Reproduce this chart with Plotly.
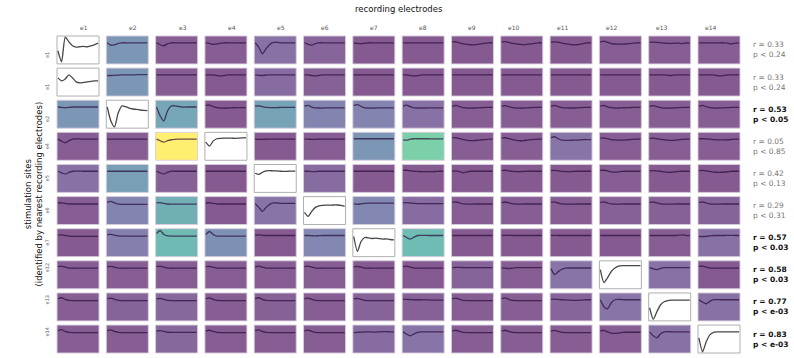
import plotly.graph_objects as go
from plotly.subplots import make_subplots
from plotly.colors import sample_colorscale

# recording electrodes (columns) and stimulation sites (rows)
electrodes = ["e1", "e2", "e3", "e4", "e5", "e6", "e7", "e8", "e9", "e10", "e11", "e12", "e13", "e14"]
site_labels = ["e1", "e1", "e2", "e4", "e5", "e6", "e7", "e12", "e13", "e14"]

# correlation statistics per stimulation site
r_values = [0.33, 0.33, 0.53, 0.05, 0.42, 0.29, 0.57, 0.58, 0.77, 0.83]
p_labels = ["0.24", "0.24", "0.05", "0.85", "0.13", "0.31", "0.03", "0.03", "e-03", "e-03"]
significant = [False, False, True, False, False, False, True, True, True, True]

# response strength per cell (None = electrode at the stimulation site)
shade_s1 = [None, 0.30, 0.02, 0.02, 0.10, 0.05, 0.00, 0.00, 0.00, 0.00, 0.00, 0.02, 0.02, 0.02]
shade_s2 = [None, 0.30, 0.02, 0.00, 0.08, 0.03, 0.00, 0.00, 0.00, 0.00, 0.00, 0.00, 0.00, 0.00]
shade_s3 = [0.30, None, 0.40, 0.00, 0.38, 0.20, 0.20, 0.10, 0.02, 0.02, 0.02, 0.02, 0.02, 0.02]
shade_s4 = [0.02, 0.02, 1.00, None, 0.00, 0.02, 0.30, 0.66, 0.02, 0.02, 0.12, 0.02, 0.02, 0.02]
shade_s5 = [0.10, 0.35, 0.03, 0.00, None, 0.08, 0.00, 0.00, 0.00, 0.00, 0.00, 0.02, 0.00, 0.00]
shade_s6 = [0.02, 0.20, 0.45, 0.00, 0.12, None, 0.22, 0.08, 0.02, 0.02, 0.02, 0.03, 0.03, 0.04]
shade_s7 = [0.00, 0.17, 0.52, 0.27, 0.00, 0.22, None, 0.53, 0.00, 0.00, 0.00, 0.00, 0.02, 0.10]
shade_s8 = [0.02, 0.02, 0.02, 0.02, 0.02, 0.02, 0.00, 0.00, 0.04, 0.02, 0.12, None, 0.10, 0.00]
shade_s9 = [0.02, 0.04, 0.06, 0.02, 0.03, 0.02, 0.04, 0.03, 0.02, 0.02, 0.05, 0.12, None, 0.10]
shade_s10 = [0.02, 0.02, 0.06, 0.02, 0.02, 0.02, 0.08, 0.12, 0.02, 0.02, 0.02, 0.02, 0.10, None]

# averaged evoked responses (normalised amplitude), one list of 12 samples per cell
resp_s1 = [
    [-0.40, -0.95, 0.28, 0.05, -0.15, -0.22, -0.20, -0.18, -0.20, -0.15, -0.10, -0.02],
    [0.00, -0.12, -0.10, -0.03, 0.00, 0.00, 0.00, 0.00, 0.00, 0.00, 0.00, 0.00],
    [0.00, -0.10, -0.15, -0.05, 0.00, 0.00, 0.00, 0.00, 0.00, 0.00, 0.00, 0.00],
    [0.00, -0.03, -0.08, -0.06, -0.02, 0.00, 0.00, 0.00, 0.00, 0.00, 0.00, 0.00],
    [0.00, -0.22, -0.55, -0.30, -0.08, 0.02, 0.02, 0.00, 0.00, 0.00, 0.00, 0.00],
    [0.00, -0.08, -0.12, -0.04, 0.00, 0.00, 0.00, 0.00, 0.00, 0.00, 0.00, 0.00],
    [0.00, -0.03, -0.05, -0.02, 0.00, 0.00, 0.00, 0.00, 0.00, 0.00, 0.00, 0.00],
    [0.00, 0.00, 0.00, 0.00, 0.00, 0.00, 0.00, 0.00, 0.00, 0.00, 0.00, 0.00],
    [0.05, 0.05, 0.00, -0.05, -0.08, -0.10, -0.10, -0.08, -0.05, -0.02, 0.00, 0.00],
    [0.04, 0.06, 0.02, -0.03, -0.06, -0.08, -0.09, -0.08, -0.06, -0.03, 0.00, 0.00],
    [0.03, 0.05, 0.03, -0.02, -0.05, -0.08, -0.10, -0.10, -0.07, -0.03, 0.00, 0.00],
    [0.03, 0.08, 0.02, -0.04, -0.06, -0.07, -0.07, -0.06, -0.04, -0.02, 0.00, 0.00],
    [0.02, 0.03, 0.02, 0.00, -0.02, -0.03, -0.03, -0.02, -0.02, -0.04, -0.01, 0.00],
    [0.00, 0.00, 0.00, 0.00, 0.00, 0.00, 0.00, 0.00, -0.03, -0.06, -0.02, 0.00],
]
resp_s2 = [
    [-0.15, -0.30, -0.20, 0.00, -0.15, -0.35, -0.40, -0.38, -0.35, -0.32, -0.30, -0.30],
    [-0.03, -0.03, -0.02, -0.01, 0.00, 0.00, 0.00, 0.00, 0.01, 0.01, 0.01, 0.01],
    [0.00, 0.00, 0.00, 0.00, 0.00, 0.00, 0.00, 0.00, 0.00, 0.00, 0.00, 0.00],
    [0.00, 0.00, 0.00, -0.03, -0.06, -0.03, 0.00, 0.00, 0.00, 0.00, 0.00, 0.00],
    [0.00, -0.02, -0.03, -0.01, 0.00, 0.00, 0.00, 0.00, 0.00, 0.00, 0.00, 0.00],
    [0.00, 0.00, -0.03, -0.05, -0.02, 0.00, 0.00, 0.00, 0.00, 0.00, 0.00, 0.00],
    [0.00, 0.00, 0.00, 0.00, 0.00, 0.00, 0.00, 0.00, 0.00, 0.00, 0.00, 0.00],
    [0.00, 0.00, -0.03, -0.06, -0.04, 0.00, 0.00, 0.00, 0.00, 0.00, 0.00, 0.00],
    [0.00, 0.00, 0.00, 0.00, 0.00, 0.00, 0.00, 0.00, 0.00, 0.00, 0.00, 0.00],
    [0.00, 0.00, 0.00, 0.00, 0.00, 0.00, 0.00, 0.00, 0.00, 0.00, 0.00, 0.00],
    [0.00, 0.00, 0.00, 0.00, 0.00, 0.00, 0.00, 0.00, 0.00, 0.00, 0.00, 0.00],
    [0.00, 0.00, 0.00, 0.00, 0.00, 0.00, 0.00, 0.00, 0.00, 0.00, 0.00, 0.00],
    [0.00, 0.00, 0.00, 0.00, 0.00, -0.02, -0.03, 0.00, 0.00, 0.00, 0.00, 0.00],
    [0.00, 0.00, 0.00, 0.00, 0.00, -0.03, -0.05, -0.02, 0.00, 0.00, 0.00, 0.00],
]
resp_s3 = [
    [0.00, -0.02, -0.03, -0.02, 0.00, 0.00, 0.00, 0.00, 0.00, 0.00, 0.00, 0.00],
    [0.00, -0.70, -1.00, -0.30, 0.05, 0.02, -0.05, -0.10, -0.12, -0.15, -0.17, -0.18],
    [0.00, -0.45, -0.70, -0.20, 0.05, 0.06, 0.03, 0.00, 0.00, 0.00, 0.00, 0.00],
    [0.08, 0.10, 0.02, -0.03, -0.05, -0.05, -0.05, -0.04, -0.03, -0.03, -0.03, -0.03],
    [0.05, 0.06, 0.02, -0.02, -0.03, -0.03, -0.03, -0.02, -0.02, -0.02, -0.02, -0.02],
    [0.05, 0.08, 0.00, -0.04, -0.05, -0.05, -0.04, -0.04, -0.04, -0.04, -0.04, -0.04],
    [0.08, 0.12, 0.03, -0.04, -0.05, -0.05, -0.05, -0.04, -0.04, -0.04, -0.04, -0.04],
    [0.05, 0.10, 0.02, -0.04, -0.05, -0.05, -0.05, -0.04, -0.04, -0.04, -0.04, -0.04],
    [0.03, 0.08, 0.02, -0.03, -0.05, -0.05, -0.05, -0.04, -0.03, -0.02, -0.02, -0.02],
    [0.03, 0.07, 0.02, -0.03, -0.05, -0.05, -0.05, -0.04, -0.03, -0.02, -0.02, -0.02],
    [0.03, 0.08, 0.02, -0.03, -0.04, -0.05, -0.05, -0.04, -0.03, -0.02, -0.02, -0.02],
    [0.04, 0.08, 0.01, -0.03, -0.05, -0.05, -0.04, -0.03, -0.03, -0.02, -0.02, -0.02],
    [0.03, 0.07, 0.02, -0.03, -0.05, -0.05, -0.05, -0.04, -0.03, -0.02, -0.02, -0.02],
    [0.03, 0.08, 0.02, -0.03, -0.05, -0.05, -0.04, -0.04, -0.03, -0.02, -0.02, -0.02],
]
resp_s4 = [
    [0.00, -0.10, -0.18, -0.08, 0.00, 0.01, 0.01, 0.00, 0.00, 0.00, 0.00, 0.00],
    [0.00, 0.00, 0.00, 0.00, 0.00, 0.00, 0.00, 0.00, 0.00, 0.00, 0.00, 0.00],
    [0.00, -0.08, -0.15, -0.08, -0.03, -0.01, 0.00, 0.00, 0.00, 0.00, 0.00, 0.00],
    [-0.15, -0.35, -0.10, 0.02, 0.04, 0.05, 0.05, 0.05, 0.04, 0.05, 0.06, 0.08],
    [0.00, -0.01, -0.01, 0.00, 0.00, 0.00, 0.00, 0.00, 0.00, 0.00, 0.00, 0.00],
    [0.00, 0.00, -0.01, -0.01, 0.00, 0.00, 0.00, 0.00, 0.00, 0.00, 0.00, 0.00],
    [0.02, 0.02, 0.02, 0.02, 0.02, 0.02, 0.02, 0.02, 0.02, 0.02, 0.02, 0.02],
    [-0.04, -0.05, 0.00, 0.02, 0.02, 0.02, 0.02, 0.02, 0.01, 0.01, 0.01, 0.01],
    [0.06, 0.08, 0.02, -0.03, -0.06, -0.07, -0.07, -0.05, -0.03, -0.02, 0.00, 0.00],
    [0.05, 0.07, 0.02, -0.03, -0.06, -0.08, -0.07, -0.05, -0.03, -0.01, 0.00, 0.00],
    [0.08, 0.12, 0.02, -0.05, -0.06, -0.06, -0.05, -0.05, -0.04, -0.02, -0.02, -0.02],
    [0.05, 0.06, 0.02, -0.02, -0.04, -0.05, -0.05, -0.04, -0.02, -0.01, 0.00, 0.00],
    [0.04, 0.05, 0.02, -0.01, -0.03, -0.05, -0.06, -0.05, -0.03, -0.01, 0.00, 0.00],
    [0.02, 0.02, 0.01, 0.00, -0.02, -0.03, -0.04, -0.04, -0.03, -0.01, 0.00, 0.00],
]
resp_s5 = [
    [0.00, -0.08, -0.14, -0.06, 0.00, 0.01, 0.01, 0.00, 0.00, 0.00, 0.00, 0.00],
    [0.00, 0.00, 0.00, 0.00, 0.00, 0.00, 0.00, 0.00, 0.00, 0.00, 0.00, 0.00],
    [0.00, -0.08, -0.14, -0.06, 0.00, 0.00, 0.00, 0.00, 0.00, 0.00, 0.00, 0.00],
    [0.00, 0.00, 0.00, 0.00, 0.00, 0.00, 0.00, 0.00, 0.00, 0.00, 0.00, 0.00],
    [-0.10, -0.16, -0.05, 0.02, 0.03, 0.02, 0.02, 0.00, -0.01, 0.00, 0.01, 0.01],
    [0.00, 0.00, -0.02, -0.02, 0.00, 0.00, 0.00, 0.00, 0.00, 0.00, 0.00, 0.00],
    [0.00, 0.00, 0.00, 0.00, 0.00, 0.00, 0.00, 0.00, 0.00, 0.00, 0.00, 0.00],
    [0.04, 0.05, 0.02, 0.00, -0.01, -0.02, -0.02, -0.02, -0.02, -0.01, 0.00, 0.00],
    [0.00, 0.02, -0.02, -0.08, -0.03, 0.00, 0.00, 0.00, 0.00, 0.00, 0.00, 0.00],
    [0.03, 0.05, 0.02, -0.01, -0.02, -0.02, -0.01, 0.00, 0.00, 0.00, 0.00, 0.00],
    [0.03, 0.04, 0.02, -0.01, -0.02, -0.02, -0.01, 0.00, 0.00, 0.00, 0.00, 0.00],
    [0.05, 0.05, 0.02, -0.03, -0.04, -0.03, -0.01, 0.00, 0.00, 0.00, 0.00, 0.00],
    [0.02, 0.03, 0.02, 0.00, -0.03, -0.05, -0.05, -0.03, -0.01, 0.00, 0.00, 0.00],
    [0.03, 0.04, 0.02, -0.01, -0.04, -0.05, -0.05, -0.04, -0.02, 0.00, 0.00, 0.00],
]
resp_s6 = [
    [0.02, 0.03, 0.00, -0.03, -0.03, -0.03, -0.03, -0.03, -0.03, -0.03, -0.03, -0.03],
    [0.05, 0.10, 0.02, -0.04, -0.05, -0.05, -0.05, -0.05, -0.05, -0.05, -0.05, -0.05],
    [0.03, 0.04, 0.00, -0.03, -0.04, -0.04, -0.04, -0.04, -0.04, -0.04, -0.04, -0.04],
    [0.02, 0.03, 0.00, -0.02, -0.03, -0.03, -0.03, -0.03, -0.03, -0.03, -0.03, -0.03],
    [0.00, -0.20, -0.40, -0.20, -0.05, 0.02, 0.02, 0.00, 0.00, 0.00, 0.00, 0.00],
    [-0.45, -0.65, -0.40, -0.20, -0.12, -0.10, -0.09, -0.09, -0.08, -0.08, -0.10, -0.15],
    [-0.03, -0.05, -0.02, 0.00, 0.01, 0.01, 0.01, 0.01, 0.01, 0.01, 0.01, 0.01],
    [0.03, 0.04, 0.02, 0.00, -0.01, -0.01, -0.01, -0.01, -0.01, -0.01, -0.01, -0.01],
    [0.05, 0.08, 0.02, -0.03, -0.04, -0.04, -0.03, -0.03, -0.03, -0.03, -0.03, -0.03],
    [0.04, 0.07, 0.02, -0.03, -0.04, -0.04, -0.03, -0.03, -0.03, -0.03, -0.03, -0.03],
    [0.05, 0.08, 0.01, -0.03, -0.04, -0.04, -0.04, -0.03, -0.03, -0.03, -0.03, -0.03],
    [0.04, 0.08, 0.02, -0.03, -0.04, -0.04, -0.03, -0.03, -0.03, -0.03, -0.03, -0.03],
    [0.05, 0.07, 0.02, -0.02, -0.04, -0.04, -0.04, -0.03, -0.03, -0.03, -0.03, -0.03],
    [0.04, 0.08, 0.02, -0.03, -0.04, -0.04, -0.03, -0.03, -0.03, -0.03, -0.03, -0.03],
]
resp_s7 = [
    [0.02, 0.03, 0.00, -0.03, -0.04, -0.04, -0.04, -0.04, -0.04, -0.04, -0.04, -0.04],
    [0.04, 0.06, 0.02, -0.02, -0.03, -0.03, -0.03, -0.03, -0.03, -0.03, -0.03, -0.03],
    [0.10, 0.25, 0.05, -0.02, -0.03, -0.03, -0.03, -0.03, -0.03, -0.03, -0.03, -0.03],
    [0.05, 0.20, 0.05, -0.03, -0.03, -0.03, -0.03, -0.03, -0.03, -0.03, -0.03, -0.03],
    [0.02, 0.03, 0.01, 0.00, 0.00, 0.00, 0.00, 0.00, 0.00, 0.00, 0.00, 0.00],
    [0.00, 0.00, -0.01, -0.02, -0.01, 0.00, 0.00, 0.00, 0.00, 0.00, 0.00, 0.00],
    [-0.05, -0.80, -0.30, -0.10, -0.12, -0.15, -0.13, -0.16, -0.18, -0.17, -0.20, -0.22],
    [0.00, -0.10, -0.18, -0.08, 0.00, 0.01, 0.01, 0.00, 0.00, 0.00, 0.00, 0.00],
    [0.00, 0.00, 0.00, 0.00, 0.00, 0.00, 0.00, 0.00, 0.00, 0.00, 0.00, 0.00],
    [0.00, 0.01, 0.01, 0.00, 0.00, 0.00, 0.00, 0.00, 0.00, 0.00, 0.00, 0.00],
    [0.00, 0.01, 0.00, 0.00, 0.00, 0.00, 0.00, 0.00, 0.00, 0.00, 0.00, 0.00],
    [0.00, 0.00, 0.00, 0.00, 0.00, 0.00, 0.00, 0.00, 0.00, 0.00, 0.00, 0.00],
    [0.00, 0.00, 0.00, 0.00, 0.00, 0.00, 0.00, 0.00, 0.02, 0.03, 0.00, 0.00],
    [-0.05, -0.05, -0.04, -0.02, 0.00, 0.00, 0.00, 0.00, 0.01, 0.01, 0.00, 0.00],
]
resp_s8 = [
    [0.05, 0.07, 0.02, -0.02, -0.03, -0.03, -0.03, -0.03, -0.03, -0.03, -0.03, -0.03],
    [0.04, 0.06, 0.02, -0.02, -0.03, -0.03, -0.03, -0.03, -0.03, -0.03, -0.03, -0.03],
    [0.05, 0.07, 0.02, -0.02, -0.03, -0.03, -0.03, -0.03, -0.03, -0.03, -0.03, -0.03],
    [0.05, 0.06, 0.02, -0.02, -0.03, -0.03, -0.03, -0.03, -0.03, -0.03, -0.03, -0.03],
    [0.04, 0.07, 0.02, -0.02, -0.03, -0.03, -0.03, -0.03, -0.03, -0.03, -0.03, -0.03],
    [0.05, 0.07, 0.02, -0.02, -0.03, -0.03, -0.03, -0.03, -0.03, -0.03, -0.03, -0.03],
    [0.04, 0.06, 0.02, -0.02, -0.03, -0.03, -0.03, -0.03, -0.03, -0.03, -0.03, -0.03],
    [0.05, 0.07, 0.02, -0.02, -0.03, -0.03, -0.03, -0.03, -0.03, -0.03, -0.03, -0.03],
    [0.00, 0.01, 0.01, 0.00, 0.00, 0.00, 0.00, 0.00, 0.00, 0.00, 0.00, 0.00],
    [0.00, -0.03, -0.05, -0.02, 0.00, 0.00, 0.00, 0.00, 0.00, 0.00, 0.00, 0.00],
    [-0.05, -0.35, -0.20, -0.08, -0.03, -0.02, -0.02, -0.02, -0.02, -0.02, -0.02, -0.02],
    [-0.10, -0.75, -0.50, -0.20, -0.02, 0.08, 0.10, 0.10, 0.10, 0.10, 0.10, 0.10],
    [0.00, -0.06, -0.10, -0.04, 0.00, 0.00, 0.00, 0.00, 0.00, 0.00, 0.00, 0.00],
    [0.06, 0.08, 0.02, -0.02, -0.03, -0.03, -0.03, -0.03, -0.03, -0.03, -0.03, -0.03],
]
resp_s9 = [
    [0.06, 0.10, 0.02, -0.03, -0.04, -0.04, -0.04, -0.04, -0.04, -0.04, -0.04, -0.04],
    [0.05, 0.08, 0.02, -0.03, -0.04, -0.04, -0.04, -0.04, -0.04, -0.04, -0.04, -0.04],
    [0.04, 0.07, 0.02, -0.03, -0.04, -0.04, -0.04, -0.04, -0.04, -0.04, -0.04, -0.04],
    [0.06, 0.09, 0.02, -0.03, -0.04, -0.04, -0.04, -0.04, -0.04, -0.04, -0.04, -0.04],
    [0.06, 0.10, 0.02, -0.03, -0.04, -0.04, -0.04, -0.04, -0.04, -0.04, -0.04, -0.04],
    [0.05, 0.08, 0.02, -0.03, -0.04, -0.04, -0.04, -0.04, -0.04, -0.04, -0.04, -0.04],
    [0.04, 0.07, 0.02, -0.03, -0.04, -0.04, -0.04, -0.04, -0.04, -0.04, -0.04, -0.04],
    [0.02, 0.02, 0.01, 0.00, 0.00, 0.00, -0.01, -0.01, -0.02, -0.02, -0.02, -0.02],
    [0.05, 0.08, 0.02, -0.03, -0.04, -0.04, -0.04, -0.04, -0.04, -0.04, -0.04, -0.04],
    [0.05, 0.09, 0.02, -0.03, -0.04, -0.04, -0.04, -0.04, -0.04, -0.04, -0.04, -0.04],
    [0.02, 0.03, 0.02, 0.00, -0.01, -0.02, -0.03, -0.03, -0.02, -0.01, 0.00, 0.00],
    [0.00, -0.35, -0.45, -0.15, 0.00, 0.02, 0.01, 0.00, 0.00, 0.00, 0.00, 0.00],
    [-0.40, -0.98, -0.60, -0.25, -0.10, -0.04, -0.02, -0.02, -0.02, -0.02, -0.02, -0.02],
    [0.00, -0.12, -0.20, -0.08, 0.00, 0.01, 0.00, 0.00, 0.00, 0.00, 0.00, 0.00],
]
resp_s10 = [
    [0.06, 0.11, 0.02, -0.03, -0.04, -0.04, -0.04, -0.04, -0.04, -0.04, -0.04, -0.04],
    [0.06, 0.10, 0.02, -0.03, -0.04, -0.04, -0.04, -0.04, -0.04, -0.04, -0.04, -0.04],
    [0.04, 0.06, 0.02, -0.02, -0.03, -0.03, -0.03, -0.03, -0.03, -0.03, -0.03, -0.03],
    [0.05, 0.08, 0.02, -0.03, -0.04, -0.04, -0.04, -0.04, -0.04, -0.04, -0.04, -0.04],
    [0.06, 0.10, 0.02, -0.03, -0.04, -0.04, -0.04, -0.04, -0.04, -0.04, -0.04, -0.04],
    [0.05, 0.09, 0.02, -0.03, -0.04, -0.04, -0.04, -0.04, -0.04, -0.04, -0.04, -0.04],
    [-0.04, -0.03, -0.01, 0.00, 0.00, -0.01, -0.01, 0.00, 0.01, 0.01, 0.00, 0.00],
    [0.00, -0.12, -0.20, -0.10, -0.02, 0.00, 0.00, 0.00, 0.00, 0.00, 0.00, 0.00],
    [0.05, 0.08, 0.02, -0.03, -0.04, -0.04, -0.04, -0.04, -0.04, -0.04, -0.04, -0.04],
    [0.05, 0.08, 0.02, -0.03, -0.04, -0.04, -0.04, -0.04, -0.04, -0.04, -0.04, -0.04],
    [0.04, 0.07, 0.02, -0.03, -0.04, -0.04, -0.04, -0.04, -0.04, -0.04, -0.04, -0.04],
    [0.05, 0.08, 0.00, -0.06, -0.08, -0.06, -0.03, -0.02, -0.02, -0.02, -0.02, -0.02],
    [0.00, -0.20, -0.30, -0.10, 0.00, 0.01, 0.00, 0.00, 0.00, 0.00, 0.00, 0.00],
    [-0.30, -1.00, -0.50, -0.15, -0.03, 0.00, 0.00, 0.00, 0.00, 0.00, 0.00, 0.00],
]

shades = [shade_s1, shade_s2, shade_s3, shade_s4, shade_s5,
          shade_s6, shade_s7, shade_s8, shade_s9, shade_s10]
responses = [resp_s1, resp_s2, resp_s3, resp_s4, resp_s5,
             resp_s6, resp_s7, resp_s8, resp_s9, resp_s10]

n_rows, n_cols = len(site_labels), len(electrodes)
W, H = 794, 358
ml, mr, mt, mb = 57, 54, 36, 5
pw, ph = W - ml - mr, H - mt - mb

fig = make_subplots(rows=n_rows, cols=n_cols,
                    horizontal_spacing=7.3 / pw, vertical_spacing=4.2 / ph)

FONT = "DejaVu Sans"


def tint(v, alpha=0.65):
    """Viridis colour for v, drawn at partial opacity over white."""
    rgb = sample_colorscale("Viridis", [v], colortype="tuple")[0]
    r, g, b = [int(round(255 * (alpha * c + (1 - alpha)))) if c <= 1 else
               int(round(alpha * c + (1 - alpha) * 255)) for c in rgb]
    return f"rgb({r},{g},{b})"


for i in range(n_rows):
    for j in range(n_cols):
        k = i * n_cols + j + 1
        suffix = "" if k == 1 else str(k)
        v = shades[i][j]
        own_site = v is None
        fill = "white" if own_site else tint(v)
        edge = "rgb(175,175,175)" if own_site else "rgba(215,205,220,0.9)"
        fig.add_shape(type="rect", xref=f"x{suffix} domain", yref=f"y{suffix} domain",
                      x0=0, x1=1, y0=0, y1=1, fillcolor=fill,
                      line=dict(color=edge, width=1), layer="below")
        y = responses[i][j]
        fig.add_trace(go.Scatter(
            x=list(range(len(y))), y=y, mode="lines", showlegend=False, hoverinfo="skip",
            line=dict(color="rgb(70,70,70)" if own_site else "rgba(40,10,55,0.7)",
                      width=1.3, shape="spline", smoothing=0.6)),
            row=i + 1, col=j + 1)

fig.update_xaxes(range=[-0.25, 11.25], visible=False)
fig.update_yaxes(range=[-1.06, 0.34], visible=False)

ann = []
# column labels
for j, name in enumerate(electrodes):
    dom = fig.layout["xaxis" if j == 0 else f"xaxis{j + 1}"].domain
    ann.append(dict(text=name, x=(dom[0] + dom[1]) / 2, y=1, xref="paper", yref="paper",
                    yanchor="bottom", yshift=3, showarrow=False,
                    font=dict(size=6, color="#555", family=FONT)))
# row labels and statistics
for i, name in enumerate(site_labels):
    dom = fig.layout["yaxis" if i == 0 else f"yaxis{i * n_cols + 1}"].domain
    yc = (dom[0] + dom[1]) / 2
    ann.append(dict(text=name, x=0, y=yc, xref="paper", yref="paper", xanchor="right",
                    xshift=-5, textangle=-90, showarrow=False,
                    font=dict(size=5, color="#555", family=FONT)))
    txt = f"r = {r_values[i]:.2f}<br>p < {p_labels[i]}"
    if significant[i]:
        txt = f"<b>r = {r_values[i]:.2f}</b><br><b>p < {p_labels[i]}</b>"
    ann.append(dict(text=txt, x=1, y=yc, xref="paper", yref="paper", xanchor="left",
                    yanchor="middle", xshift=11, align="left", showarrow=False,
                    font=dict(size=7.5, color="#111" if significant[i] else "#777",
                              family=FONT)))
# axis titles
ann.append(dict(text="recording electrodes", x=0.5, y=1, xref="paper", yref="paper",
                yanchor="bottom", yshift=20, showarrow=False,
                font=dict(size=8.5, color="#111", family=FONT)))
ann.append(dict(text="stimulation sites<br>(identified by nearest recording electrodes)",
                x=0, y=0.5, xref="paper", yref="paper", xanchor="center",
                xshift=-24, textangle=-90, showarrow=False,
                font=dict(size=8.5, color="#111", family=FONT)))

fig.update_layout(width=W, height=H, margin=dict(l=ml, r=mr, t=mt, b=mb),
                  paper_bgcolor="white", plot_bgcolor="rgba(0,0,0,0)",
                  annotations=ann, font=dict(family=FONT))

fig.write_html("out.html")
